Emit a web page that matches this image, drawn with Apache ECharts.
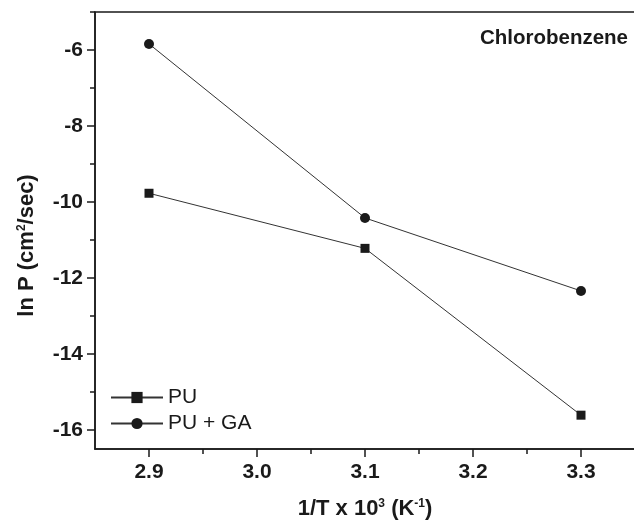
<!DOCTYPE html>
<html>
<head>
<meta http-equiv="Content-Type" content="text/html; charset=UTF-8">
<title>Chlorobenzene</title>
<script type="text/javascript" src="https://cdn.jsdelivr.net/npm/echarts@6/dist/echarts.min.js"></script>
<style>
  html, body { margin: 0; padding: 0; background: #fff; }
</style>
</head>
<body>
    <div id="main" style="width: 634px; height: 527px;"></div>
    <script type="text/javascript">
        // data
        var xValues = [2.9, 3.1, 3.3];
        var puValues = [-9.77, -11.22, -15.61];
        var puGaValues = [-5.84, -10.42, -12.34];
        var seriesNames = ['PU', 'PU + GA'];

        // axis ticks
        var xMajor = [2.9, 3.0, 3.1, 3.2, 3.3];
        var xMinor = [2.95, 3.05, 3.15, 3.25, 3.35];
        var yMajor = [-16, -14, -12, -10, -8, -6];
        var yMinor = [-15, -13, -11, -9, -7, -5];

        var ink = '#1a1a1a';
        var font = 'Liberation Sans, Arial, Helvetica, sans-serif';

        function pairs(xs, ys) {
            var out = [];
            for (var i = 0; i < xs.length; i++) {
                out.push([xs[i], ys[i]]);
            }
            return out;
        }

        var supStyle = {
            fontSize: 12,
            fontWeight: 'bold',
            fontFamily: font,
            color: ink,
            verticalAlign: 'top',
            lineHeight: 12
        };

        var myChart = echarts.init(document.getElementById('main'));
        myChart.setOption({
            animation: false,
            backgroundColor: '#fff',
            title: {
                text: 'Chlorobenzene',
                right: 6,
                top: 28,
                padding: 0,
                textStyle: { fontSize: 20.5, fontWeight: 'bold', fontFamily: font, color: ink }
            },
            legend: {
                orient: 'vertical',
                left: 110,
                top: 387,
                itemWidth: 52,
                itemHeight: 14,
                itemGap: 5,
                padding: 0,
                data: seriesNames,
                textStyle: { fontSize: 21, fontFamily: font, color: ink }
            },
            grid: {
                left: 95,
                top: 12,
                width: 540,
                height: 437,
                show: true,
                borderColor: ink,
                borderWidth: 1.5,
                backgroundColor: 'transparent',
                outerBoundsMode: 'none',
                containLabel: false
            },
            xAxis: [{
                type: 'value',
                position: 'bottom',
                min: 2.85,
                max: 3.35,
                name: '1/T x 10{sup|3} (K{sup|-1})',
                nameLocation: 'middle',
                nameGap: 49,
                nameTextStyle: {
                    fontSize: 22, fontWeight: 'bold', fontFamily: font, color: ink,
                    rich: { sup: supStyle }
                },
                axisLine: { show: true, lineStyle: { color: ink, width: 1.5 } },
                axisTick: { show: true, length: 8, customValues: xMajor, lineStyle: { color: ink, width: 1.5 } },
                axisLabel: {
                    customValues: xMajor,
                    margin: 13,
                    fontSize: 21, fontWeight: 'bold', fontFamily: font, color: ink,
                    formatter: function (v) { return v.toFixed(1); }
                },
                splitLine: { show: false }
            }, {
                type: 'value',
                position: 'bottom',
                min: 2.85,
                max: 3.35,
                axisLine: { show: false },
                axisTick: { show: true, length: 5, customValues: xMinor, lineStyle: { color: ink, width: 1.5 } },
                axisLabel: { show: false },
                splitLine: { show: false }
            }],
            yAxis: [{
                type: 'value',
                position: 'left',
                min: -16.5,
                max: -5,
                name: 'ln P (cm{sup|2}/sec)',
                nameLocation: 'middle',
                nameGap: 57,
                nameTextStyle: {
                    fontSize: 22, fontWeight: 'bold', fontFamily: font, color: ink,
                    padding: [0, 30, 0, 0],
                    rich: { sup: supStyle }
                },
                axisLine: { show: true, lineStyle: { color: ink, width: 1.5 } },
                axisTick: { show: true, length: 8, customValues: yMajor, lineStyle: { color: ink, width: 1.5 } },
                axisLabel: {
                    customValues: yMajor,
                    margin: 12,
                    fontSize: 21, fontWeight: 'bold', fontFamily: font, color: ink
                },
                splitLine: { show: false }
            }, {
                type: 'value',
                position: 'left',
                min: -16.5,
                max: -5,
                axisLine: { show: false },
                axisTick: { show: true, length: 5, customValues: yMinor, lineStyle: { color: ink, width: 1.5 } },
                axisLabel: { show: false },
                splitLine: { show: false }
            }],
            series: [{
                name: seriesNames[0],
                type: 'line',
                xAxisIndex: 0,
                yAxisIndex: 0,
                data: pairs(xValues, puValues),
                symbol: 'rect',
                symbolSize: 9,
                itemStyle: { color: ink },
                lineStyle: { color: '#333', width: 1 }
            }, {
                name: seriesNames[1],
                type: 'line',
                xAxisIndex: 0,
                yAxisIndex: 0,
                data: pairs(xValues, puGaValues),
                symbol: 'circle',
                symbolSize: 10,
                itemStyle: { color: ink },
                lineStyle: { color: '#333', width: 1 }
            }]
        });
    </script>
</body>
</html>
